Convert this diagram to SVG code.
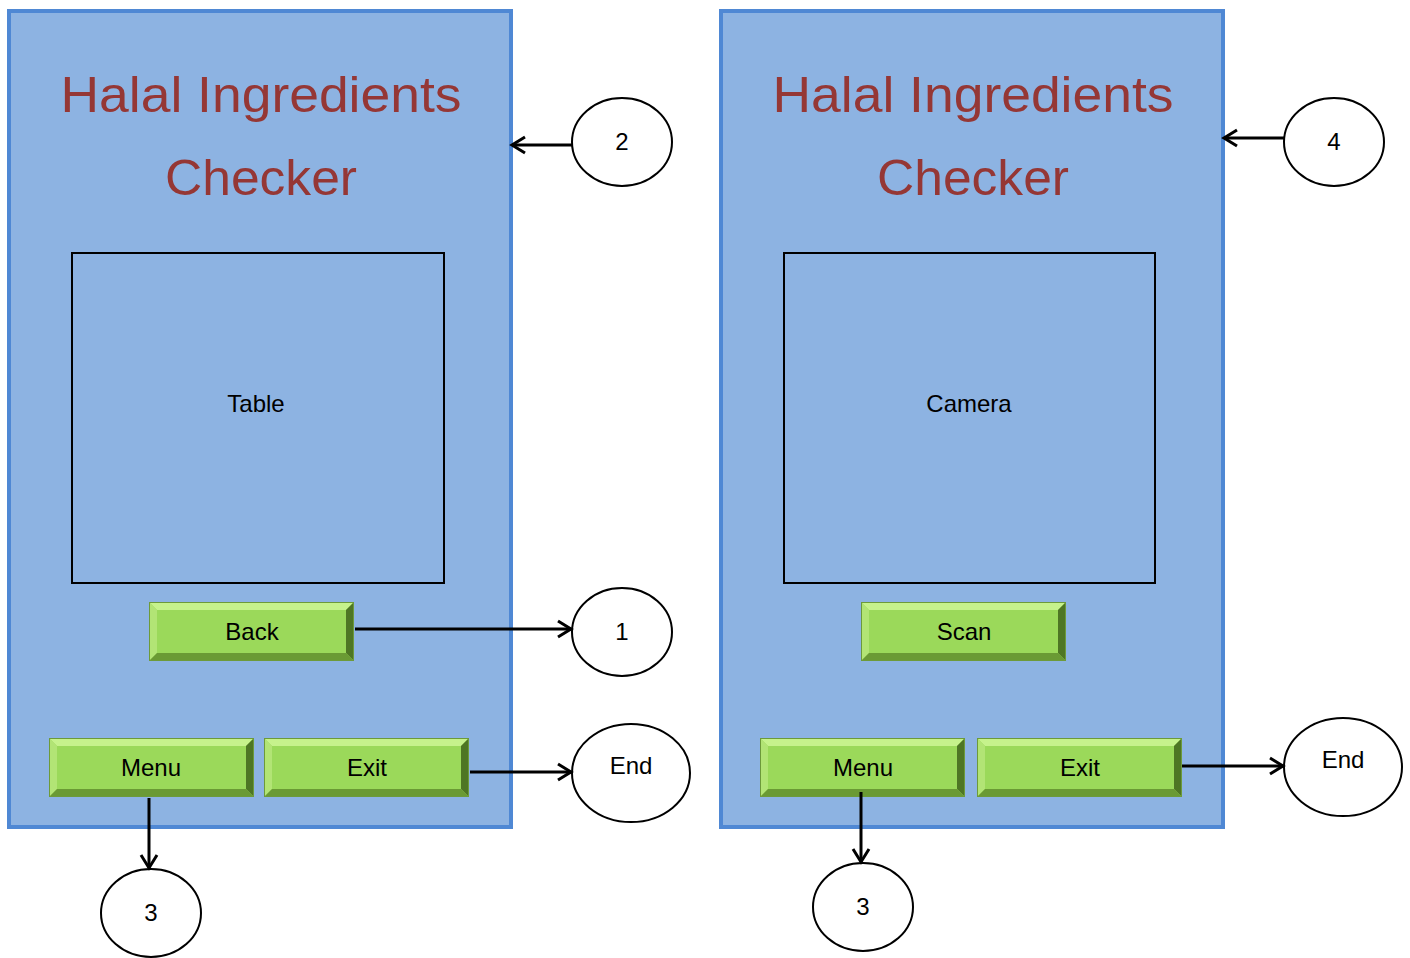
<svg xmlns="http://www.w3.org/2000/svg" xmlns:xlink="http://www.w3.org/1999/xlink" width="1410" height="958" viewBox="0 0 1410 958">
<style>
.panel{fill:#8db3e2;stroke:#4f88d4;stroke-width:4}
.box{fill:none;stroke:#000;stroke-width:2}
.title{font-family:"Liberation Sans",Arial,sans-serif;font-size:50px;fill:#953735;text-anchor:middle}
.lbl{font-family:"Liberation Sans",Arial,sans-serif;font-size:24px;fill:#000;text-anchor:middle}
.node{fill:#fff;stroke:#000;stroke-width:2}
.conn{fill:none;stroke:#000;stroke-width:3;marker-end:url(#ah)}
</style>
<defs>
<marker id="ah" viewBox="0 0 20 20" refX="18" refY="10" markerWidth="20" markerHeight="20" markerUnits="userSpaceOnUse" orient="auto" overflow="visible">
<path d="M5,2 L18,10 L5,18" fill="none" stroke="#000" stroke-width="3"/>
</marker>
<symbol id="btn" viewBox="0 0 205 59" width="205" height="59">
<rect x="0" y="0" width="205" height="59" fill="#9bd95a"/>
<polygon points="0,0 205,0 197,8 8,8" fill="#c6f28c"/>
<polygon points="0,0 8,8 8,51 0,59" fill="#b2e475"/>
<polygon points="205,0 205,59 197,51 197,8" fill="#4e7624"/>
<polygon points="0,59 8,51 197,51 205,59" fill="#6a9a34"/>
<rect x="0.5" y="0.5" width="204" height="58" fill="none" stroke="#6d9a3a" stroke-width="1"/>
</symbol>
</defs>
<g id="screen1">
<rect class="panel" x="9" y="11" width="502" height="816"/>
<text class="title" x="261" y="112" textLength="401" lengthAdjust="spacingAndGlyphs">Halal Ingredients</text>
<text class="title" x="261" y="195" textLength="192" lengthAdjust="spacingAndGlyphs">Checker</text>
</g>
<g id="table"><rect class="box" x="72" y="253" width="372" height="330"/><text class="lbl" x="256" y="412">Table</text></g>
<g id="back"><use xlink:href="#btn" x="149" y="602"/><text class="lbl" x="252" y="640">Back</text></g>
<g id="menu1"><use xlink:href="#btn" x="49" y="738"/><text class="lbl" x="151" y="776">Menu</text></g>
<g id="exit1"><use xlink:href="#btn" x="264" y="738"/><text class="lbl" x="367" y="776">Exit</text></g>
<g id="screen2">
<rect class="panel" x="721" y="11" width="502" height="816"/>
<text class="title" x="973" y="112" textLength="401" lengthAdjust="spacingAndGlyphs">Halal Ingredients</text>
<text class="title" x="973" y="195" textLength="192" lengthAdjust="spacingAndGlyphs">Checker</text>
</g>
<g id="camera"><rect class="box" x="784" y="253" width="371" height="330"/><text class="lbl" x="969" y="412">Camera</text></g>
<g id="scan"><use xlink:href="#btn" x="861" y="602"/><text class="lbl" x="964" y="640">Scan</text></g>
<g id="menu2"><use xlink:href="#btn" x="760" y="738"/><text class="lbl" x="863" y="776">Menu</text></g>
<g id="exit2"><use xlink:href="#btn" x="977" y="738"/><text class="lbl" x="1080" y="776">Exit</text></g>
<g id="n2"><ellipse class="node" cx="622" cy="142" rx="50" ry="44"/><text class="lbl" x="622" y="150">2</text></g>
<g id="n1"><ellipse class="node" cx="622" cy="632" rx="50" ry="44"/><text class="lbl" x="622" y="640">1</text></g>
<g id="end1"><ellipse class="node" cx="631" cy="773" rx="59" ry="49"/><text class="lbl" x="631" y="774">End</text></g>
<g id="n3a"><ellipse class="node" cx="151" cy="913" rx="50" ry="44"/><text class="lbl" x="151" y="921">3</text></g>
<g id="n4"><ellipse class="node" cx="1334" cy="142" rx="50" ry="44"/><text class="lbl" x="1334" y="150">4</text></g>
<g id="end2"><ellipse class="node" cx="1343" cy="767" rx="59" ry="49"/><text class="lbl" x="1343" y="768">End</text></g>
<g id="n3b"><ellipse class="node" cx="863" cy="907" rx="50" ry="44"/><text class="lbl" x="863" y="915">3</text></g>
<g id="connectors">
<line class="conn" x1="572" y1="145" x2="512" y2="145"/>
<line class="conn" x1="355" y1="629" x2="571" y2="629"/>
<line class="conn" x1="470" y1="772" x2="571" y2="772"/>
<line class="conn" x1="149" y1="798" x2="149" y2="868"/>
<line class="conn" x1="1284" y1="138" x2="1224" y2="138"/>
<line class="conn" x1="1182" y1="766" x2="1283" y2="766"/>
<line class="conn" x1="861" y1="792" x2="861" y2="862"/>
</g>
</svg>
